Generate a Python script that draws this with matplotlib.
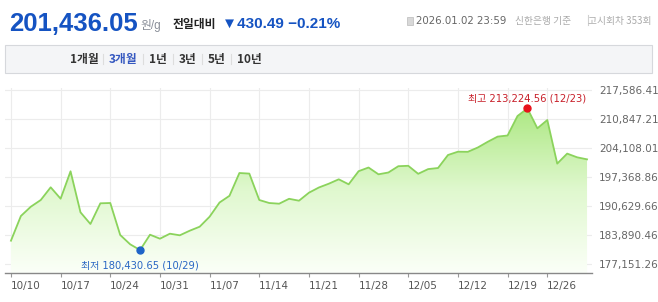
import numpy as np
import matplotlib.pyplot as plt
from matplotlib.colors import LinearSegmentedColormap
from matplotlib.patches import Rectangle
from matplotlib.lines import Line2D
from matplotlib.transforms import ScaledTranslation

# trading days shown on the chart
dates = ['10/10',
         '10/13', '10/14', '10/15', '10/16', '10/17',
         '10/20', '10/21', '10/22', '10/23', '10/24',
         '10/27', '10/28', '10/29', '10/30', '10/31',
         '11/03', '11/04', '11/05', '11/06', '11/07',
         '11/10', '11/11', '11/12', '11/13', '11/14',
         '11/17', '11/18', '11/19', '11/20', '11/21',
         '11/24', '11/25', '11/26', '11/27', '11/28',
         '12/01', '12/02', '12/03', '12/04', '12/05',
         '12/08', '12/09', '12/10', '12/11', '12/12',
         '12/15', '12/16', '12/17', '12/18', '12/19',
         '12/22', '12/23', '12/24', '12/26',
         '12/29', '12/30', '12/31',
         '01/02']

# gold price (won per gram)
prices = [182594, 188314, 190468, 192020, 194961,
          192321, 198667, 189171, 186461, 191255,
          191325, 183914, 181760, 180430.65, 183983,
          183057, 184215, 183844, 184910, 185836,
          188152, 191441, 192992, 198273, 198134,
          192020, 191325, 191163, 192298, 191858,
          193710, 194915, 195795, 196814, 195656,
          198690, 199547, 197972, 198389, 199848,
          199940, 198088, 199176, 199431, 202442,
          203206, 203183, 204179, 205499, 206703,
          206958, 211474, 213224.56, 208625, 210548,
          200450, 202766, 201909, 201436.05]

xtick_dates = ['10/10', '10/17', '10/24', '10/31', '11/07', '11/14',
               '11/21', '11/28', '12/05', '12/12', '12/19', '12/26']
ytick_values = [177151.2, 183890.4, 190629.6, 197368.8, 204108.0, 210847.2, 217586.4]
ytick_labels = ['177,151.26', '183,890.46', '190,629.66', '197,368.86',
                '204,108.01', '210,847.21', '217,586.41']
periods = ['1개월', '3개월', '1년', '3년', '5년', '10년']

KR = ['DejaVu Sans', 'Noto Sans CJK KR']
W, H = 658, 302

def fx(px):
    return px / W

def fy(py):
    return 1 - py / H

def vbar(fig, px, y0, y1, col):
    # thin vertical separator, in pixels
    fig.lines.append(Line2D([fx(px), fx(px)], [fy(y0), fy(y1)], transform=fig.transFigure,
                            color=col, lw=0.8))

fig = plt.figure(figsize=(W / 100, H / 100), dpi=100)

# header
fig.text(fx(9), fy(31), '201,436.05', fontsize=18.5, fontweight='bold',
         family='Liberation Sans', color='#1553c2', va='baseline')
fig.text(fx(140), fy(29), '원/g', fontsize=8.5, family=['Liberation Sans', 'Noto Sans CJK KR'],
         color='#8a8f99', va='baseline')
fig.text(fx(173), fy(28), '전일대비', fontsize=8.5, fontweight='bold',
         family='Noto Sans CJK KR', color='#222222', va='baseline')
fig.text(fx(222), fy(28), '▼430.49 −0.21%', fontsize=11, fontweight='bold',
         family=['Liberation Sans', 'DejaVu Sans'], color='#1553c2', va='baseline')

fig.patches.append(Rectangle((fx(407), fy(25)), 6 / W, 8 / H, transform=fig.transFigure,
                             facecolor='#d8d8d8', edgecolor='#bbbbbb', lw=0.5))
fig.text(fx(416), fy(24), '2026.01.02 23:59', fontsize=7.4, family=KR,
         color='#666666', va='baseline')
fig.text(fx(515), fy(24), '신한은행 기준', fontsize=7, family='Noto Sans CJK KR',
         color='#aaaaaa', va='baseline')
vbar(fig, 588, 15, 25, '#d0d0d0')
fig.text(fx(651), fy(24), '고시회차 353회', fontsize=7, family='Noto Sans CJK KR',
         color='#aaaaaa', va='baseline', ha='right')

# period tab bar
fig.patches.append(Rectangle((fx(5), fy(73)), 647 / W, 28 / H, transform=fig.transFigure,
                             facecolor='#f4f5f7', edgecolor='#d6d8dc', lw=0.8))
tab_x = [70, 109, 149, 179, 208, 237]
for i, (lab, x) in enumerate(zip(periods, tab_x)):
    col = '#3558c0' if lab == '3개월' else '#333333'
    fig.text(fx(x), fy(59), lab, fontsize=8.5, fontweight='bold', family='Noto Sans CJK KR',
             color=col, va='center')
    if i > 0:
        vbar(fig, x - 6, 54, 64, '#dddddd')

# chart area
ax = fig.add_axes([fx(5), fy(273), (592 - 5) / W, (273 - 88) / H])
x = np.arange(len(prices))
y = np.array(prices)
ybot, ytop = 175113, 217960

line_col = '#8bd35c'
ax.plot(x, y, color=line_col, lw=1.3, zorder=3)
poly = ax.fill_between(x, y, ybot, color='none', lw=0)
cmap = LinearSegmentedColormap.from_list('g', ['#fbfff8', '#e0f8cf', '#ade883'])
grad = np.linspace(0, 1, 256).reshape(-1, 1)
img = ax.imshow(grad, aspect='auto', cmap=cmap, origin='lower',
                extent=[x[0], x[-1], ybot, max(prices)], zorder=2)
img.set_clip_path(poly.get_paths()[0], transform=ax.transData)

# min / max markers
imin = int(np.argmin(y))
imax = int(np.argmax(y))
ax.plot(x[imin], y[imin], 'o', color='#1f64c8', ms=5, zorder=4)
ax.plot(x[imax], y[imax], 'o', color='#e8121c', ms=5, zorder=4)
ax.annotate('최저 {:,.2f} ({})'.format(prices[imin], dates[imin]), (x[imin], y[imin]),
            xytext=(0, -11), textcoords='offset points', ha='center', va='center',
            fontsize=7.2, family=KR, color='#2a67c4')
ax.annotate('최고 {:,.2f} ({})'.format(prices[imax], dates[imax]), (x[imax], y[imax]),
            xytext=(0, 7.5), textcoords='offset points', ha='center', va='center',
            fontsize=7.2, family=KR, color='#c8202a')

ax.set_xlim(-0.6, 58.5)
ax.set_ylim(ybot, ytop)
ax.set_xticks([dates.index(d) for d in xtick_dates])
ax.set_xticklabels(xtick_dates, fontsize=7.5, color='#555555')
shift = ScaledTranslation(-5 / 100, 0, fig.dpi_scale_trans)
for lab in ax.get_xticklabels():
    lab.set_ha('left')
    lab.set_transform(lab.get_transform() + shift)
ax.set_yticks(ytick_values)
ax.set_yticklabels(ytick_labels, fontsize=7.5, color='#666666')
ax.yaxis.tick_right()
ax.tick_params(axis='y', length=0, pad=5)
ax.tick_params(axis='x', length=3, color='#999999', pad=3)
ax.grid(True, color='#ececec', lw=0.8, zorder=0)
ax.set_axisbelow(True)
for s in ['top', 'left', 'right']:
    ax.spines[s].set_visible(False)
ax.spines['bottom'].set_color('#888888')
ax.spines['bottom'].set_linewidth(1)
ax.set_facecolor('white')

fig.savefig('out.png', dpi=100)
